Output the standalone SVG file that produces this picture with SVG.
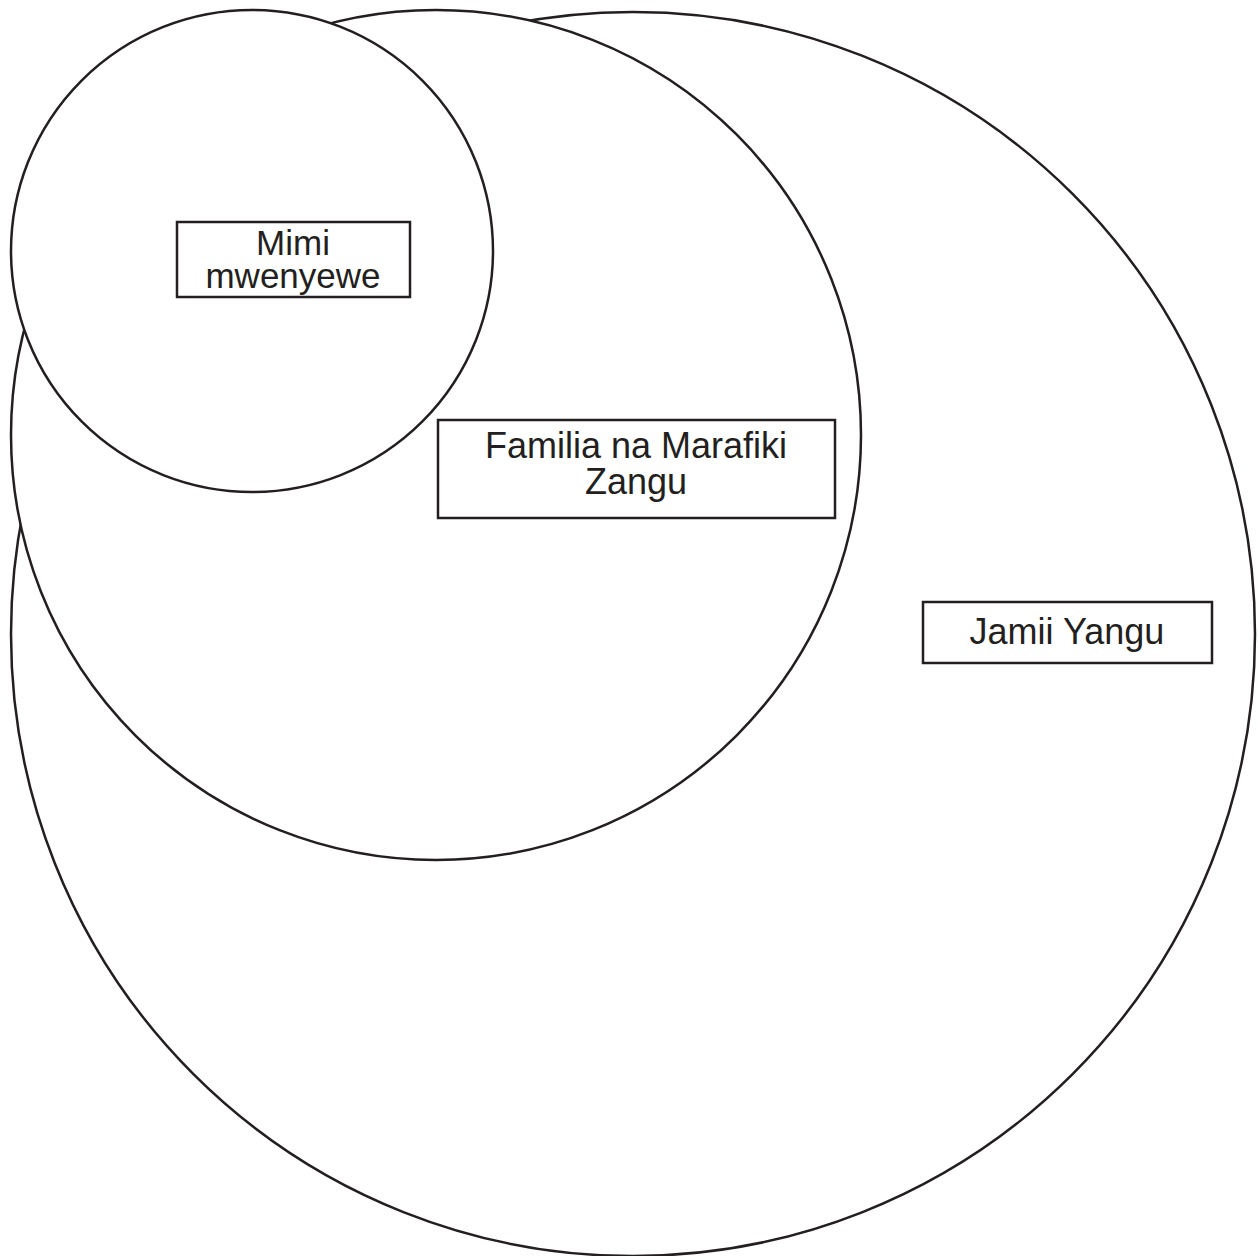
<svg xmlns="http://www.w3.org/2000/svg" width="1258" height="1256" viewBox="0 0 1258 1256">
<style>
.c{fill:#fff;stroke:#231f20;stroke-width:2.5}
.b{fill:#fff;stroke:#231f20;stroke-width:2.5}
.t{font-family:"Liberation Sans",Arial,sans-serif;font-size:35px;fill:#231f20;text-anchor:middle}
</style>
<rect width="1258" height="1256" fill="#fff"/>
<g id="jamii">
<circle class="c" cx="633" cy="634" r="622"/>
<rect class="b" x="923" y="602" width="289" height="61"/>
<text class="t" x="1067" y="644" style="font-size:36px">Jamii Yangu</text>
</g>
<g id="familia">
<circle class="c" cx="436" cy="435" r="425"/>
<rect class="b" x="438" y="420" width="397" height="98"/>
<text class="t" x="636" y="458" style="font-size:36px">Familia na Marafiki</text>
<text class="t" x="636" y="494" style="font-size:36px">Zangu</text>
</g>
<g id="mimi">
<circle class="c" cx="252" cy="251" r="241"/>
<rect class="b" x="177" y="222" width="233" height="75"/>
<text class="t" x="293" y="255">Mimi</text>
<text class="t" x="293" y="288">mwenyewe</text>
</g>
<g id="connectors"/>
</svg>
